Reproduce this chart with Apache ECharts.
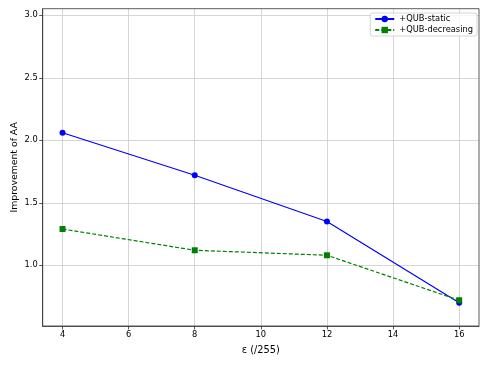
<!DOCTYPE html>
<html><head><meta charset="utf-8">
<script src="https://cdn.jsdelivr.net/npm/echarts@6/dist/echarts.min.js"></script>
<style>html,body{margin:0;padding:0;background:#fff}#c{width:488px;height:366px}</style>
</head><body><div id="c"></div>
<script>
const xValues = [4, 8, 12, 16];
const staticValues = [2.06, 1.72, 1.35, 0.70];
const decreasingValues = [1.29, 1.12, 1.08, 0.72];
const seriesNames = ['+QUB-static', '+QUB-decreasing'];
const xTicks = [4, 6, 8, 10, 12, 14, 16];
const yTicks = [1.0, 1.5, 2.0, 2.5, 3.0];
const xTitle = 'ε (/255)';
const yTitle = 'Improvement of AA';

const font = 'DejaVu Sans';
const chart = echarts.init(document.getElementById('c'), null, {renderer: 'canvas'});
function pts(v){ return xValues.map((x,i)=>[x, v[i]]); }
chart.setOption({
  animation: false,
  grid: {left: 42.7, right: 9, top: 8.7, bottom: 40, containLabel: false, outerBoundsMode: 'none'},
  legend: {
    right: 11, top: 13, orient: 'vertical', itemGap: 3, itemWidth: 19, itemHeight: 8, itemTextGap: 6,
    backgroundColor: 'rgba(255,255,255,0.8)', borderColor: '#cccccc', borderWidth: 0.8, borderRadius: 2, padding: [2,4,2,4],
    textStyle: {fontFamily: font, fontSize: 8.3, color: '#000'},
    data: seriesNames
  },
  xAxis: {
    type: 'value', min: 3.4, max: 16.6,
    axisLine: {show: true, onZero: false, lineStyle: {color: '#333', width: 0.8}},
    axisTick: {show: true, length: 3.5, customValues: xTicks, lineStyle: {color: '#333', width: 0.8}},
    axisLabel: {fontFamily: font, fontSize: 8.3, color: '#000', margin: 5, customValues: xTicks,
      formatter: v => String(v)},
    splitLine: {show: true, lineStyle: {color: '#cccccc', width: 0.8}},
    name: xTitle, nameLocation: 'middle', nameGap: 19, nameMoveOverlap: false,
    nameTextStyle: {fontFamily: font, fontSize: 9.8, color: '#000'}
  },
  yAxis: {
    type: 'value', min: 0.514, max: 3.053,
    axisLine: {show: true, onZero: false, lineStyle: {color: '#333', width: 0.8}},
    axisTick: {show: true, length: 3.5, customValues: yTicks, lineStyle: {color: '#333', width: 0.8}},
    axisLabel: {fontFamily: font, fontSize: 8.3, color: '#000', margin: 5, customValues: yTicks,
      formatter: v => Number(v).toFixed(1)},
    splitLine: {show: true, lineStyle: {color: '#cccccc', width: 0.8}},
    name: yTitle, nameLocation: 'middle', nameGap: 24, nameMoveOverlap: false,
    nameTextStyle: {fontFamily: font, fontSize: 9.3, color: '#000'}
  },
  series: [
    {name: seriesNames[0], type: 'line', data: pts(staticValues), symbol: 'circle', symbolSize: 6,
      lineStyle: {color: '#0000ff', width: 1.2}, itemStyle: {color: '#0000ff'}},
    {name: seriesNames[1], type: 'line', data: pts(decreasingValues), symbol: 'rect', symbolSize: 6,
      lineStyle: {color: '#008000', width: 1.2, type: [4, 2]}, itemStyle: {color: '#008000'}}
  ]
});
const g = chart.getModel().getComponent('grid').coordinateSystem.getRect();
chart.setOption({graphic: [{type: 'rect', shape: {x: g.x, y: g.y, width: g.width, height: g.height},
  style: {fill: 'none', stroke: '#333', lineWidth: 0.8}, silent: true, z: 10}]});
</script></body></html>
